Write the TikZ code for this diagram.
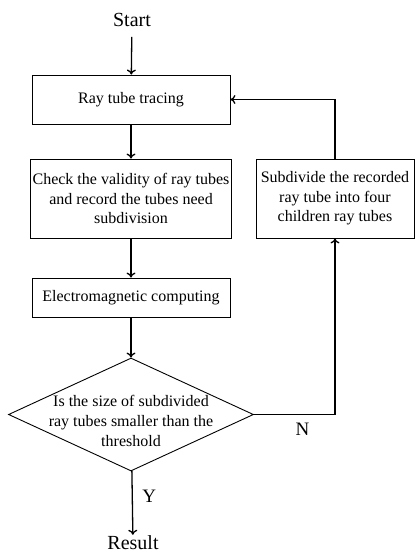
\documentclass[tikz,border=0pt]{standalone}
\usepackage{fontspec}
\setmainfont{Liberation Serif}
\usetikzlibrary{shapes.geometric,arrows.meta}

\begin{document}
\begin{tikzpicture}[x=1pt, y=-1pt,
  process/.style={draw, line width=0.9pt, align=center, inner sep=2pt,
    font=\fontsize{16}{19.5}\selectfont},
  decision/.style={draw, diamond, line width=0.9pt, inner sep=0pt},
  term/.style={font=\fontsize{20}{24}\selectfont},
  flow/.style={line width=1.3pt, -{To[length=5pt, width=9pt]}}]
\useasboundingbox (0, 0) rectangle (415, 555);
\node[term, inner ysep=10pt](0) at (132, 20) {Start};
\node[process, minimum width=198, minimum height=49](1) at (131, 99.5) {Ray tube tracing};
\node[process, minimum width=198, minimum height=79](2) at (131, 198.5) {Check the validity of ray tubes\\and record the tubes need\\subdivision};
\node[process, minimum width=198, minimum height=39](3) at (131, 297.5) {Electromagnetic computing};
\node[decision, minimum width=245, minimum height=113,
  label={[align=center, yshift=-6pt, font=\fontsize{16}{20}\selectfont]center:Is the size of subdivided\\ray tubes smaller than the\\threshold}](4) at (131, 414.5) {};
\node[term, inner sep=1pt](5) at (133, 543) {Result};
\node[process, minimum width=158, minimum height=79](6) at (335, 198.5) {Subdivide the recorded\\ray tube into four\\children ray tubes};
\draw[flow] (0) -- (1);
\draw[flow] (1) -- (2);
\draw[flow] (2) -- (3);
\draw[flow] (3) -- (4);
\draw[flow] (4) -- node[right=6pt, pos=0.4, font=\fontsize{19}{22}\selectfont]{Y} (5);
\draw[flow] (4.east) -| node[pos=0.3, below=5pt, font=\fontsize{19}{22}\selectfont]{N} (6.south);
\draw[flow] (6.north) |- (1.east);
\end{tikzpicture}
\end{document}
